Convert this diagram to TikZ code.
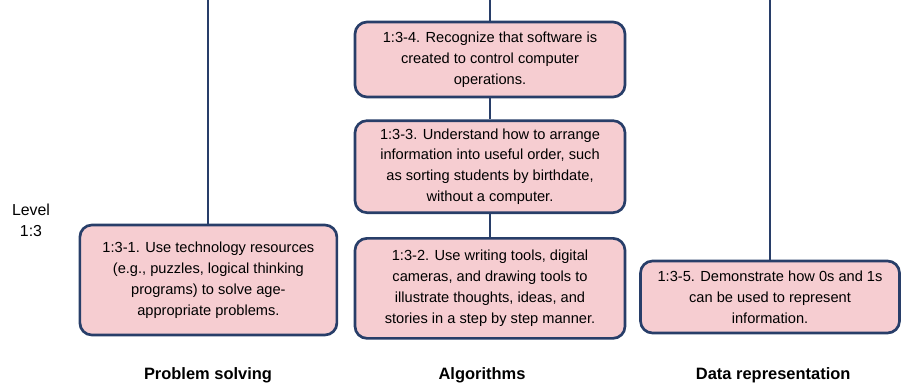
\documentclass[tikz,border=0pt]{standalone}
\usepackage{fontspec}
\setmainfont{Liberation Sans}
\usetikzlibrary{positioning}
\definecolor{stdfill}{RGB}{246,205,209}
\definecolor{stdborder}{RGB}{40,62,105}
\definecolor{linkcol}{RGB}{40,62,105}

\begin{document}
\begin{tikzpicture}[
  font=\fontsize{10.4}{14.9}\selectfont,
  std/.style={
    draw=stdborder,
    fill=stdfill,
    rounded corners=0.3cm,
    align=center,
    line width=1.9pt,
    inner sep=2pt
  },
  link/.style={line width=1.4pt, color=linkcol},
  colname/.style={font=\fontsize{11.7}{14}\selectfont\bfseries},
  lvl/.style={font=\fontsize{11.3}{15}\selectfont, align=center}
]
\useasboundingbox (0,0) rectangle (22.525,-9.7);

% ========== Level label ==========
\node[lvl] (level) at (0.775,-5.5) {Level\\1:3};

% ========== Problem solving ==========
\coordinate (ps-top) at (5.21,0);
\node[std, minimum width=6.425cm, minimum height=2.75cm] (std-1) at (5.21,-7.0)
  {1:3-1. Use technology resources\\(e.g., puzzles, logical thinking\\programs) to solve age-\\appropriate problems.};
\draw[link] (ps-top) -- (std-1);

% ========== Algorithms ==========
\coordinate (alg-top) at (12.25,0);
\node[std, minimum width=6.75cm, minimum height=1.875cm] (std-4) at (12.25,-1.4875)
  {1:3-4. Recognize that software is\\created to control computer\\operations.};
\node[std, minimum width=6.75cm, minimum height=2.3cm, below=0.525cm of std-4] (std-3)
  {1:3-3. Understand how to arrange\\information into useful order, such\\as sorting students by birthdate,\\without a computer.};
\node[std, minimum width=6.75cm, minimum height=2.5cm, below=0.575cm of std-3] (std-2)
  {1:3-2. Use writing tools, digital\\cameras, and drawing tools to\\illustrate thoughts, ideas, and\\stories in a step by step manner.};
\draw[link] (alg-top) -- (std-4);
\draw[link] (std-4) -- (std-3);
\draw[link] (std-3) -- (std-2);

% ========== Data representation ==========
\coordinate (dr-top) at (19.25,0);
\node[std, minimum width=6.475cm, minimum height=1.8cm] (std-5) at (19.25,-7.425)
  {1:3-5. Demonstrate how 0s and 1s\\can be used to represent\\information.};
\draw[link] (dr-top) -- (std-5);

% ========== Column names ==========
\node[colname] (ps-name) at (5.2,-9.375) {Problem solving};
\node[colname] (alg-name) at (12.05,-9.375) {Algorithms};
\node[colname] (dr-name) at (19.33,-9.375) {Data representation};

\end{tikzpicture}
\end{document}
